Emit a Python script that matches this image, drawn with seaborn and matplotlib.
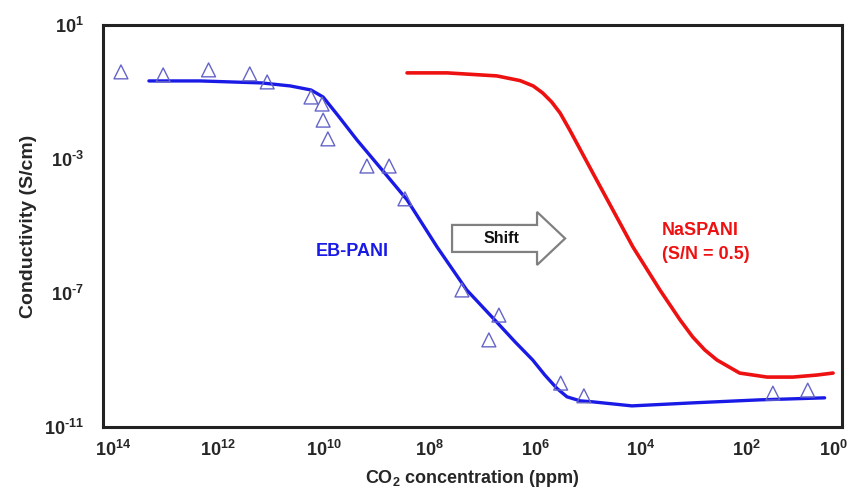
import numpy as np
import pandas as pd
import matplotlib
matplotlib.use("Agg")
import matplotlib.pyplot as plt
import matplotlib.transforms as mtransforms
import seaborn as sns
from matplotlib.patches import FancyArrow

sns.set_style("white")
plt.rcParams['font.family'] = ['Liberation Sans', 'DejaVu Sans']
plt.rcParams['mathtext.fontset'] = 'custom'
plt.rcParams['mathtext.rm'] = 'Liberation Sans:bold'
plt.rcParams['mathtext.bf'] = 'Liberation Sans:bold'
plt.rcParams['mathtext.it'] = 'Liberation Sans:bold'

# EB-PANI measured points (log10 CO2 ppm, log10 conductivity)
eb_pts_logx = [13.66, 12.86, 12.0, 11.22, 10.89, 10.06, 9.85, 9.83, 9.74,
               9.0, 8.58, 8.28, 7.2, 6.5, 6.69, 5.33, 4.89, 1.31, 0.65]
eb_pts_logy = [-0.40, -0.49, -0.34, -0.46, -0.70, -1.15, -1.36, -1.84, -2.40,
               -3.21, -3.21, -4.19, -6.91, -7.66, -8.40, -9.69, -10.07, -9.99, -9.90]

# EB-PANI fitted curve
eb_fit_logx = [13.13, 12.16, 10.99, 10.45, 10.06, 9.83, 9.55, 9.19, 8.70, 8.24,
               7.67, 7.11, 6.54, 6.20, 5.86, 5.63, 5.40, 5.21, 4.96, 4.72,
               3.98, 2.83, 1.56, 0.33]
eb_fit_logy = [-0.67, -0.67, -0.73, -0.82, -0.94, -1.15, -1.70, -2.43, -3.35, -4.22,
               -5.63, -6.91, -7.87, -8.45, -9.0, -9.45, -9.85, -10.10, -10.22, -10.25,
               -10.37, -10.28, -10.19, -10.13]

# NaSPANI (S/N = 0.5) curve
na_logx = [8.24, 7.48, 6.54, 6.10, 5.85, 5.67, 5.50, 5.34, 5.16, 4.72, 3.96, 3.45, 3.07,
           2.83, 2.60, 2.37, 1.94, 1.42, 0.93, 0.48, 0.17]
na_logy = [-0.43, -0.43, -0.52, -0.66, -0.82, -1.03, -1.30, -1.63, -2.13, -3.42, -5.63, -6.91,
           -7.80, -8.31, -8.70, -9.0, -9.39, -9.51, -9.51, -9.45, -9.39]

xticks_exp = [14, 12, 10, 8, 6, 4, 2, 0]
yticks_exp = [1, -3, -7, -11]


def tick_text(e):
    if e < 0:
        return r"$10^{\text{-}%d}$" % (-e)
    return r"$10^{%d}$" % e


pts = pd.DataFrame({"x": 10.0 ** np.array(eb_pts_logx), "y": 10.0 ** np.array(eb_pts_logy)})
ebfit = pd.DataFrame({"x": 10.0 ** np.array(eb_fit_logx), "y": 10.0 ** np.array(eb_fit_logy)})
na = pd.DataFrame({"x": 10.0 ** np.array(na_logx), "y": 10.0 ** np.array(na_logy)})

fig = plt.figure(figsize=(8.52, 4.90), dpi=100)
ax = fig.add_axes([0.1209, 0.1286, 0.8674, 0.8204])

ax.set_xscale('log')
ax.set_yscale('log')

sns.lineplot(data=ebfit, x="x", y="y", ax=ax, color="#1a1ae6", lw=2.4,
             estimator=None, sort=False, legend=False)
sns.lineplot(data=na, x="x", y="y", ax=ax, color="#ee1111", lw=2.6,
             estimator=None, sort=False, legend=False)
sns.scatterplot(data=pts, x="x", y="y", ax=ax, marker="^", s=100,
                facecolor="none", edgecolor="#6464c8", linewidth=1.0, legend=False, zorder=5)

ax.set_xlim(1e14, 1e0)
ax.set_ylim(1e-11, 1e1)
ax.set_xticks([10.0 ** e for e in xticks_exp])
ax.set_xticklabels([tick_text(e) for e in xticks_exp])
ax.set_yticks([10.0 ** e for e in yticks_exp])
ax.set_yticklabels([tick_text(e) for e in yticks_exp])
ax.minorticks_off()
ax.tick_params(axis='both', which='major', direction='in', length=5, width=2,
               labelsize=13, color='#222222')
ax.tick_params(axis='y', pad=14)
ax.tick_params(axis='x', pad=9)

# small horizontal offsets of x tick labels as in the reference
labels = ax.get_xticklabels()
for i, lab in enumerate(labels):
    dx = 7 / 72 if i < len(labels) - 1 else -6 / 72
    lab.set_transform(lab.get_transform() + mtransforms.ScaledTranslation(dx, 0, fig.dpi_scale_trans))

for s in ax.spines.values():
    s.set_visible(True)
    s.set_color('#222222')
    s.set_linewidth(2.2)

ax.set_xlabel(r"CO$_2$ concentration (ppm)", fontsize=13, fontweight='bold', labelpad=6)
ax.set_ylabel("Conductivity (S/cm)", fontsize=14, fontweight='bold', labelpad=5)

# Annotations
ax.text(0.3378, 0.436, "EB-PANI", transform=ax.transAxes, color="#1a1ae6",
        fontsize=13, fontweight='bold', ha='center', va='center')
ax.text(0.7564, 0.4876, "NaSPANI", transform=ax.transAxes, color="#ee1111",
        fontsize=13, fontweight='bold', ha='left', va='center')
ax.text(0.7564, 0.4303, "(S/N = 0.5)", transform=ax.transAxes, color="#ee1111",
        fontsize=13, fontweight='bold', ha='left', va='center')

# Shift arrow (axes fraction coordinates)
arr = FancyArrow(0.4723, 0.469, 0.153, 0.0, width=0.0672, head_width=0.132,
                 head_length=0.038, length_includes_head=True,
                 transform=ax.transAxes, facecolor='white', edgecolor='#808080',
                 linewidth=1.6, zorder=6)
ax.add_patch(arr)
ax.text(0.5395, 0.469, "Shift", transform=ax.transAxes, color="#111111",
        fontsize=11.5, fontweight='bold', ha='center', va='center', zorder=7)

fig.savefig("out.png", dpi=100, facecolor='white')
